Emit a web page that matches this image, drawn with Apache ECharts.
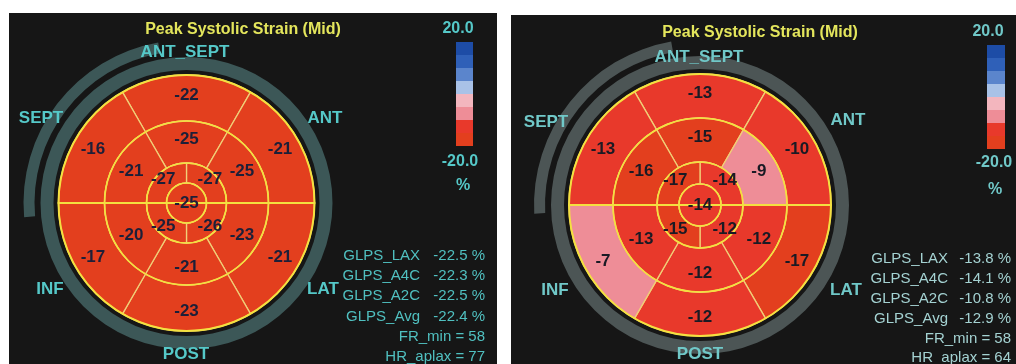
<!DOCTYPE html>
<html>
<head>
<meta charset="utf-8">
<script src="https://cdn.jsdelivr.net/npm/echarts@6/dist/echarts.min.js"></script>
<style>
  html, body { margin: 0; padding: 0; background: #ffffff; width: 1016px; height: 364px; overflow: hidden; }
  .panel { position: absolute; background: #161616; }
  #leftPanel { left: 9px; top: 13px; width: 488px; height: 351px; }
  #rightPanel { left: 511px; top: 15px; width: 505px; height: 349px; }
</style>
</head>
<body>
<div id="leftPanel" class="panel"></div>
<div id="rightPanel" class="panel"></div>
<script>
// Segment names in pie drawing order (clockwise, starting at the top)
const ringSegments = ['ANT_SEPT', 'ANT', 'LAT', 'POST', 'INF', 'SEPT'];
const apicalSegments = ['ANT', 'LAT', 'INF', 'SEPT'];

// Peak systolic strain (%), first study
const leftBasal = [-22, -21, -21, -23, -17, -16];
const leftMid = [-25, -25, -23, -21, -20, -21];
const leftApical = [-27, -26, -25, -27];
const leftApex = -25;
const leftGlobal = [-22.5, -22.3, -22.5, -22.4];
const leftFrMin = 58;
const leftHrAplax = 77;

// Peak systolic strain (%), second study
const rightBasal = [-13, -10, -17, -12, -7, -13];
const rightMid = [-15, -9, -12, -12, -13, -16];
const rightApical = [-14, -12, -15, -17];
const rightApex = -14;
const rightGlobal = [-13.8, -14.1, -10.8, -12.9];
const rightFrMin = 58;
const rightHrAplax = 64;

const globalNames = ['GLPS_LAX', 'GLPS_A4C', 'GLPS_A2C', 'GLPS_Avg'];
const wallLabels = ['ANT_SEPT', 'SEPT', 'ANT', 'INF', 'LAT', 'POST'];
const scaleEnds = ['20.0', '-20.0', '%'];

// Strain colour scale, low to high
const scalePieces = [
  { lte: -15, color: '#e33f1e' },
  { gt: -15, lte: -10, color: '#e8392b' },
  { gt: -10, lte: -5, color: '#ee8d97' },
  { gt: -5, lte: 0, color: '#f3b6be' },
  { gt: 0, lte: 5, color: '#a9c2e7' },
  { gt: 5, lte: 10, color: '#5b85cc' },
  { gt: 10, lte: 15, color: '#2f60b8' },
  { gt: 15, color: '#1d4ca6' }
];

const FONT = '"Liberation Sans", Arial, sans-serif';

function buildOption(d, L) {
  const center = [L.cx, L.cy];
  const r = L.radii;

  const ring = (names, values, r0, r1, startAngle, position) => ({
    type: 'pie', z: 2, silent: true, center, radius: [r0, r1],
    startAngle, clockwise: true,
    data: values.map((v, i) => ({ name: names[i], value: [1, v] })),
    label: {
      show: true, position, formatter: p => p.value[1],
      color: L.valueColor, fontFamily: FONT, fontWeight: 'bold', fontSize: 17
    },
    labelLine: { show: false },
    itemStyle: { borderColor: '#f1cf78', borderWidth: 1.3 },
    emphasis: { disabled: true }
  });

  const outline = (radius, slices, width) => ({
    type: 'pie', z: 2, silent: true, center, radius: [0, radius], startAngle: 0,
    data: new Array(slices).fill(0).map(() => ({ value: 1 })),
    label: { show: false }, labelLine: { show: false },
    itemStyle: { color: 'rgba(0,0,0,0)', borderColor: '#f4e040', borderWidth: width },
    emphasis: { disabled: true }
  });

  const band = (r0, r1, startAngle, endAngle) => ({
    type: 'pie', z: 1, silent: true, center, radius: [r0, r1],
    startAngle, endAngle, clockwise: true,
    data: [{ value: 1 }],
    label: { show: false }, labelLine: { show: false },
    itemStyle: { color: L.bandColor, borderWidth: 0 },
    emphasis: { disabled: true }
  });

  const text = (str, x, y, opts) => Object.assign({
    type: 'text', x, y, z: 10, silent: true,
    style: Object.assign({
      text: str, fill: L.labelColor, fontFamily: FONT, fontSize: 17, fontWeight: 'bold',
      align: 'center', verticalAlign: 'middle', textAlign: 'center', textVerticalAlign: 'middle'
    }, opts || {})
  });

  const graphics = [];
  graphics.push(text('Peak Systolic Strain (Mid)', L.title[0], L.title[1], { fill: '#e4e65c', fontSize: 16 }));
  wallLabels.forEach((w, i) => graphics.push(text(w, L.walls[i][0], L.walls[i][1])));
  scaleEnds.forEach((s, i) => graphics.push(text(s, L.ends[i][0], L.ends[i][1], { fontSize: 16 })));

  const statStyle = { fill: L.statColor, fontWeight: 'normal', fontSize: 15, align: 'right', textAlign: 'right' };
  globalNames.forEach((n, i) => {
    graphics.push(text(n, L.statNameX, L.statRows[i], statStyle));
    graphics.push(text(d.global[i].toFixed(1) + ' %', L.statValueX, L.statRows[i], statStyle));
  });
  graphics.push(text('FR_min = ' + d.frMin, L.statValueX, L.statRows[4], statStyle));
  graphics.push(text('HR_aplax = ' + d.hr, L.statValueX, L.statRows[5], statStyle));

  return {
    animation: false,
    backgroundColor: '#161616',
    visualMap: {
      type: 'piecewise', seriesIndex: [2, 3, 4, 5], dimension: 1,
      orient: 'vertical', left: L.scale[0], top: L.scale[1], padding: 0,
      itemWidth: L.scale[2], itemHeight: L.scale[3], itemGap: 0,
      itemSymbol: 'rect', showLabel: false, hoverLink: false, selectedMode: false,
      pieces: scalePieces
    },
    series: [
      band(L.ringBand[0], L.ringBand[1], 90, 'auto'),
      band(L.arcBand[0], L.arcBand[1], L.arcBand[2], L.arcBand[3]),
      ring(ringSegments, d.basal, r[2], r[3], 120, 'inside'),
      ring(ringSegments, d.mid, r[1], r[2], 120, 'inside'),
      ring(apicalSegments, d.apical, r[0], r[1], 90, 'inside'),
      ring(['APEX'], [d.apex], 0, r[0], 0, 'center'),
      outline(r[0], 1, 1.7),
      outline(r[1], 1, 1.7),
      outline(r[2], 1, 1.7),
      outline(r[3], 2, 2)
    ],
    graphic: graphics
  };
}

const leftLayout = {
  cx: 177.5, cy: 190, radii: [20, 40, 82, 128],
  ringBand: [133, 146], arcBand: [152, 163, 185, 100],
  bandColor: '#3c5757', labelColor: '#55c8c8', statColor: '#50c0c0', valueColor: '#1d1f38',
  title: [234, 17],
  walls: [[176, 39], [32, 105], [316, 105], [41, 276], [314, 276], [177, 341]],
  scale: [447, 29, 17, 13], ends: [[449, 16], [451, 149], [454, 173]],
  statNameX: 411, statValueX: 476, statRows: [242.5, 263, 283, 304, 324, 344]
};

const rightLayout = {
  cx: 189, cy: 190, radii: [21, 43, 87, 131],
  ringBand: [136, 149], arcBand: [155, 166, 183, 100],
  bandColor: '#4c5555', labelColor: '#70c8c8', statColor: '#a4d2d2', valueColor: '#1a1a24',
  title: [249, 18],
  walls: [[188, 42], [35, 107], [337, 105], [44, 275], [335, 275], [189, 339]],
  scale: [476, 30, 18, 13], ends: [[477, 17], [483, 148], [484, 175]],
  statNameX: 437, statValueX: 500, statRows: [244, 264, 284, 304, 324, 343]
};

const leftChart = echarts.init(document.getElementById('leftPanel'), null, { renderer: 'canvas' });
leftChart.setOption(buildOption({
  basal: leftBasal, mid: leftMid, apical: leftApical, apex: leftApex,
  global: leftGlobal, frMin: leftFrMin, hr: leftHrAplax
}, leftLayout));

const rightChart = echarts.init(document.getElementById('rightPanel'), null, { renderer: 'canvas' });
rightChart.setOption(buildOption({
  basal: rightBasal, mid: rightMid, apical: rightApical, apex: rightApex,
  global: rightGlobal, frMin: rightFrMin, hr: rightHrAplax
}, rightLayout));
</script>
</body>
</html>
